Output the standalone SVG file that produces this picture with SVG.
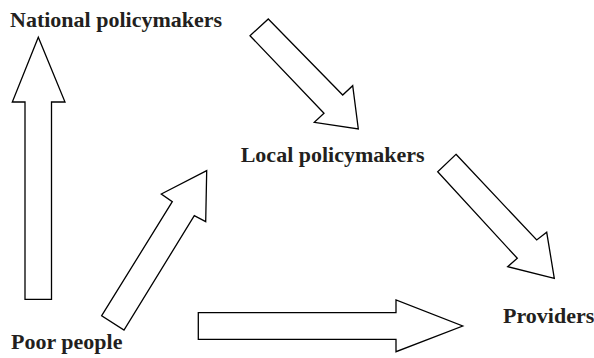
<svg xmlns="http://www.w3.org/2000/svg" width="594" height="358" viewBox="0 0 594 358">
<style>
.lbl{font-family:"Liberation Serif","Times New Roman",serif;font-weight:bold;font-size:22px;fill:#231f20}
.arr{fill:#fff;stroke:#000;stroke-width:1.3;stroke-linejoin:miter}
</style>
<rect width="594" height="358" fill="#fff"/>
<g id="connectors">
<polygon id="poor-to-national" class="arr" points="25,299.3 25,102 12.3,102 38.3,37.3 65,102 51.5,102 51.5,299.3"/>
<polygon id="national-to-local" class="arr" points="268.3,19 342.7,95 352.7,85.7 358.3,129 314.3,122.3 324,113.3 250,35.7"/>
<polygon id="local-to-providers" class="arr" points="456,154.3 536.7,240 546.7,232.3 554.3,278.3 507.7,266.7 517.3,258.3 437.7,171.7"/>
<polygon id="poor-to-local" class="arr" points="101.7,315.7 172.3,201.7 161.3,194 206.7,170.7 205.7,221.7 194.3,215.7 124,330"/>
<polygon id="poor-to-providers" class="arr" points="198.3,312.7 396,312.7 396,300 462.7,326 396,351.7 396,339.3 198.3,339.3"/>
</g>
<g id="national"><text class="lbl" x="10" y="26.7">National policymakers</text></g>
<g id="local"><text class="lbl" x="240.7" y="162.3">Local policymakers</text></g>
<g id="providers"><text class="lbl" x="503" y="322.7">Providers</text></g>
<g id="poor"><text class="lbl" x="11" y="349.3">Poor people</text></g>
</svg>
